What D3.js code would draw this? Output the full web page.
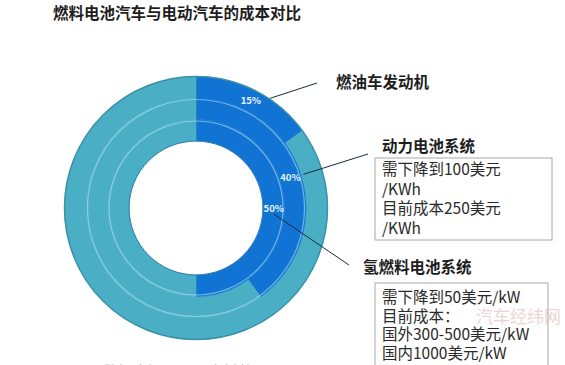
<!DOCTYPE html>
<html lang="zh">
<head>
<meta charset="UTF-8">
<title>燃料电池汽车与电动汽车的成本对比</title>
<script src="https://d3js.org/d3.v7.min.js"></script>
<style>
  body { margin: 0; background: #fff; }
  svg { display: block; font-family: "Noto Sans CJK SC", "Noto Sans", sans-serif; }
</style>
</head>
<body>
<svg id="chart" width="565" height="365"></svg>
<script>
// data
const title = "燃料电池汽车与电动汽车的成本对比";
const systems = ["燃油车发动机", "动力电池系统", "氢燃料电池系统"]; // outer -> inner ring
const shares = [15, 40, 50];
const notes = [
  [],
  ["需下降到100美元", "/KWh", "目前成本250美元", "/KWh"],
  ["需下降到50美元/kW", "目前成本：", "国外300-500美元/kW", "国内1000美元/kW"]
];

const svg = d3.select("#chart");
const cx = 196, cy = 208;
const rInner = 67, rOuter = 131.5;

// ring radius scale: inner ring first
const ring = d3.scaleBand()
  .domain(systems.slice().reverse())
  .range([rInner, rOuter])
  .paddingInner(0);

const pie = d3.pie().sort(null).value(d => d);
const arc = d3.arc();

svg.append("text")
  .attr("x", 53).attr("y", 19)
  .attr("font-size", 15.5).attr("font-weight", "bold")
  .attr("fill", "#1e1e1e")
  .text(title);

const g = svg.append("g").attr("transform", `translate(${cx},${cy})`);

const rings = systems.map((name, i) => {
  const r0 = ring(name), r1 = r0 + ring.bandwidth();
  const slices = pie([shares[i], 100 - shares[i]]);
  return { name, r0, r1, slices, value: shares[i] };
});

rings.forEach(rg => {
  g.selectAll(null)
    .data(rg.slices)
    .enter().append("path")
    .attr("d", d => arc({ innerRadius: rg.r0, outerRadius: rg.r1, startAngle: d.startAngle, endAngle: d.endAngle }))
    .attr("fill", (d, j) => j === 0 ? "#1173d4" : "#4aaec5")
    .attr("stroke", (d, j) => j === 0 ? "#1173d4" : "#4aaec5")
    .attr("stroke-width", 0.6);
});

// ring separators
[ring(systems[1]), ring(systems[0])].forEach(r => {
  g.append("circle").attr("r", r - 1.5)
    .attr("fill", "none").attr("stroke", "rgba(190,235,245,0.55)").attr("stroke-width", 1.2);
});
g.append("circle").attr("r", rOuter).attr("fill", "none")
  .attr("stroke", "#3a92a8").attr("stroke-width", 1.5);
g.append("circle").attr("r", rInner).attr("fill", "none")
  .attr("stroke", "#2e7fb6").attr("stroke-width", 1);

// percentage labels at arc centroids
const centroids = rings.map(rg => {
  const s = rg.slices[0];
  return arc.centroid({ innerRadius: rg.r0, outerRadius: rg.r1, startAngle: s.startAngle, endAngle: s.endAngle });
});
rings.forEach((rg, i) => {
  g.append("text")
    .attr("x", centroids[i][0]).attr("y", centroids[i][1])
    .attr("text-anchor", "middle").attr("dominant-baseline", "central")
    .attr("font-size", 9.5).attr("font-weight", "bold")
    .attr("fill", "#e6f3ff")
    .text(rg.value + "%");
});

// leader lines (start offset from label, end at callout)
const leaderStart = [[19, -2], [13, -3], [0, 6]];
const leaderEnd = [[317, 83], [368, 154], [349, 265]];
rings.forEach((rg, i) => {
  svg.append("line")
    .attr("x1", cx + centroids[i][0] + leaderStart[i][0])
    .attr("y1", cy + centroids[i][1] + leaderStart[i][1])
    .attr("x2", leaderEnd[i][0]).attr("y2", leaderEnd[i][1])
    .attr("stroke", "#1a2a3a").attr("stroke-width", 1);
});

// callout titles
const calloutPos = [[336, 88], [382, 152], [363, 273]];
systems.forEach((name, i) => {
  svg.append("text")
    .attr("x", calloutPos[i][0]).attr("y", calloutPos[i][1])
    .attr("font-size", 15.5).attr("font-weight", "bold")
    .attr("fill", "#1e1e1e")
    .text(name);
});

// note boxes
const boxes = [null, { x: 375, y: 158, w: 177, h: 82 }, { x: 375, y: 283, w: 173, h: 100 }];
const lineStart = [null, 175, 303];
const lineGap = [0, 19.5, 18.5];
notes.forEach((lines, i) => {
  if (!lines.length) return;
  const b = boxes[i];
  svg.append("rect")
    .attr("x", b.x).attr("y", b.y).attr("width", b.w).attr("height", b.h)
    .attr("fill", "#fff").attr("stroke", "#a8a8a8").attr("stroke-width", 1);
  lines.forEach((t, k) => {
    svg.append("text")
      .attr("x", b.x + 7).attr("y", lineStart[i] + k * lineGap[i])
      .attr("font-size", 15.5).attr("fill", "#2a2a2a")
      .text(t);
  });
});

// watermark
svg.append("text").attr("x", 476).attr("y", 323)
  .attr("font-size", 17).attr("fill", "#d9b4b4").attr("opacity", 0.55)
  .text("汽车经纬网");

// cut-off caption at the bottom
svg.append("text").attr("x", 103).attr("y", 377)
  .attr("font-size", 15).attr("fill", "#a0a0a0")
  .text("数据来源：公开资料整理");
</script>
</body>
</html>
